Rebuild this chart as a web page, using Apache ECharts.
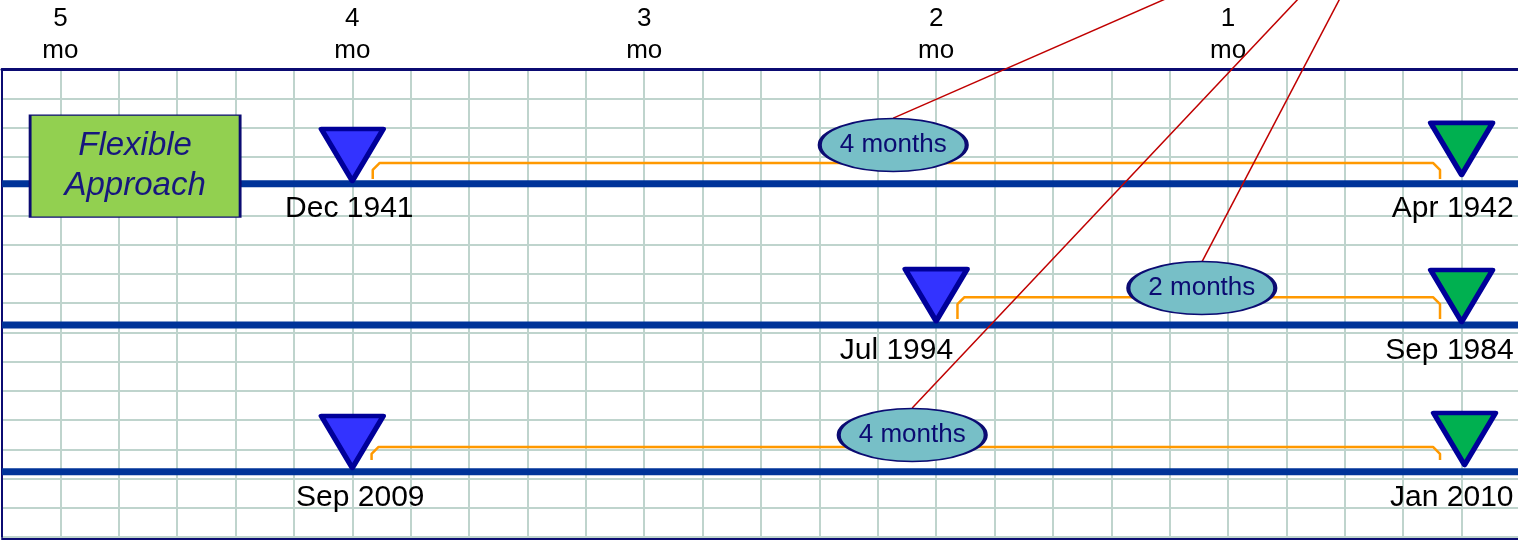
<!DOCTYPE html>
<html>
<head>
<meta charset="utf-8">
<script src="https://cdn.jsdelivr.net/npm/echarts@6/dist/echarts.min.js"></script>
<style>
  html, body { margin: 0; padding: 0; background: #fff; }
  #chart { width: 1518px; height: 541px; }
</style>
</head>
<body>
<div id="chart"></div>
<script>
// top axis: months counted back from the end date
const monthTicks = [5, 4, 3, 2, 1];

// one row per timeline
const startLabels = ['Dec 1941', 'Jul 1994', 'Sep 2009'];
const endLabels = ['Apr 1942', 'Sep 1984', 'Jan 2010'];
const startMonths = [4.0, 2.0, 4.0];
const endMonths = [0.2, 0.2, 0.19];
const lineLevels = [12.08, 7.25, 2.23];
const startTipLevels = [12.17, 7.38, 2.36];
const endTipLevels = [12.38, 7.35, 2.46];

// duration callouts
const durationLabels = ['4 months', '2 months', '4 months'];
const calloutMonths = [2.147, 1.09, 2.082];
const calloutLevels = [13.40, 8.51, 3.49];
const calloutTops = [14.32, 9.40, 4.41];
const leaderEnd = [0.44, 21.78];

// orange brackets
const bracketFrom = [3.93, 1.927, 3.934];
const bracketTo = [0.274, 0.274, 0.274];
const bracketBase = [12.24, 7.45, 2.63];
const bracketTop = [12.79, 8.20, 3.08];

const boxLabel = 'Flexible\nApproach';
const boxPos = [4.744, 12.68];

const FONT = '"Liberation Sans", Arial, sans-serif';
const NAVY = '#0B0B72';
const GRID = '#BFD4CD';

const chart = echarts.init(document.getElementById('chart'), null, { renderer: 'canvas' });

const series = [];

// thick blue timelines
lineLevels.forEach(function (y) {
  series.push({
    type: 'line', z: 2, symbol: 'none', silent: true,
    lineStyle: { color: '#003399', width: 7 },
    data: [[5.2, y], [0, y]]
  });
});

// brackets with small chamfered corners
const rx = 0.024, ry = 0.24;
bracketFrom.forEach(function (from, i) {
  const to = bracketTo[i], b = bracketBase[i], t = bracketTop[i];
  series.push({
    type: 'line', z: 3, symbol: 'none', silent: true,
    lineStyle: { color: '#FF9900', width: 2.5, join: 'round' },
    data: [[from, b], [from, t - ry], [from - rx, t], [to + rx, t], [to, t - ry], [to, b]]
  });
});

// red leader lines running off the top
calloutMonths.forEach(function (m, i) {
  series.push({
    type: 'line', z: 4, symbol: 'none', silent: true, clip: false,
    lineStyle: { color: '#C00000', width: 1.5 },
    data: [[m, calloutTops[i]], leaderEnd]
  });
});

// duration ellipses
series.push({
  type: 'scatter', z: 5, silent: true,
  symbol: 'path://M0,50A50,50,0,1,1,100,50A50,50,0,1,1,0,50Z',
  symbolSize: [147, 53],
  itemStyle: { color: '#77BFC7', borderColor: NAVY, borderWidth: 2.5, opacity: 1 },
  label: {
    show: true, position: 'inside', fontSize: 26, fontFamily: FONT, color: NAVY,
    formatter: function (p) { return p.name; }
  },
  data: durationLabels.map(function (name, i) {
    return { name: name, value: [calloutMonths[i], calloutLevels[i]] };
  })
});

// start / end markers (downward triangles, tip on the data point)
const tri = 'path://M0,0L100,0L50,80Z';
series.push({
  type: 'scatter', z: 6, silent: true, symbol: tri, symbolSize: [62, 52],
  symbolOffset: [0, '-50%'],
  itemStyle: { color: '#3333FF', borderColor: '#000099', borderWidth: 5, borderJoin: 'round', opacity: 1 },
  data: startMonths.map(function (m, i) { return [m, startTipLevels[i]]; })
});
series.push({
  type: 'scatter', z: 6, silent: true, symbol: tri, symbolSize: [62, 52],
  symbolOffset: [0, '-50%'],
  itemStyle: { color: '#00B050', borderColor: '#000099', borderWidth: 5, borderJoin: 'round', opacity: 1 },
  data: endMonths.map(function (m, i) { return [m, endTipLevels[i]]; })
});

// date labels under the timelines
const startOffsets = [[-3, 0, 'center'], [17, 0, 'right'], [8, 0, 'center']];
const endOffsets = [[52, 0, 'right'], [52, 0, 'right'], [49, 0, 'right']];
const dateItems = [];
startLabels.forEach(function (name, i) {
  dateItems.push({
    name: name, value: [startMonths[i], lineLevels[i]],
    label: { align: startOffsets[i][2], offset: [startOffsets[i][0], startOffsets[i][1]] }
  });
});
endLabels.forEach(function (name, i) {
  dateItems.push({
    name: name, value: [endMonths[i], lineLevels[i]],
    label: { align: endOffsets[i][2], offset: [endOffsets[i][0], endOffsets[i][1]] }
  });
});
series.push({
  type: 'scatter', z: 7, silent: true, symbolSize: 1,
  itemStyle: { color: '#003399', opacity: 1 },
  label: {
    show: true, position: 'bottom', distance: 10, fontSize: 30, fontFamily: FONT, color: '#000000',
    formatter: function (p) { return p.name; }
  },
  data: dateItems
});

// "Flexible Approach" box
series.push({
  type: 'scatter', z: 8, silent: true, symbol: 'rect', symbolSize: [210, 102],
  itemStyle: { color: '#92D050', borderColor: NAVY, borderWidth: 2, opacity: 1 },
  label: {
    show: true, position: 'inside', fontSize: 33, lineHeight: 40, fontStyle: 'italic',
    fontFamily: FONT, color: '#17177E', formatter: boxLabel
  },
  data: [boxPos]
});

const option = {
  animation: false,
  backgroundColor: '#fff',
  grid: { left: 2, right: -2, top: 69, bottom: 4, containLabel: false, outerBoundsMode: 'none' },
  xAxis: [{
    type: 'value', position: 'top', inverse: true, min: 0, max: 5.2, interval: 0.2,
    axisLine: { show: true, onZero: false, lineStyle: { color: NAVY, width: 3 } },
    axisTick: { show: false },
    axisLabel: {
      fontSize: 26, lineHeight: 32, color: '#000', margin: 2, fontFamily: FONT,
      formatter: function (v) {
        const r = Math.round(v);
        return (Math.abs(v - r) < 1e-6 && monthTicks.indexOf(r) >= 0) ? r + '\nmo' : '';
      }
    },
    splitLine: { show: true, lineStyle: { color: GRID, width: 2 } }
  }, {
    type: 'value', position: 'bottom', inverse: true, min: 0, max: 5.2, offset: 2,
    axisLine: { show: true, onZero: false, lineStyle: { color: NAVY, width: 2 } },
    axisTick: { show: false }, axisLabel: { show: false }, splitLine: { show: false }
  }],
  yAxis: {
    type: 'value', min: 0, max: 16, interval: 1,
    axisLine: { show: true, onZero: false, lineStyle: { color: NAVY, width: 2 } },
    axisTick: { show: false }, axisLabel: { show: false },
    splitLine: { show: true, lineStyle: { color: GRID, width: 2 } }
  },
  series: series
};

chart.setOption(option);
</script>
</body>
</html>
